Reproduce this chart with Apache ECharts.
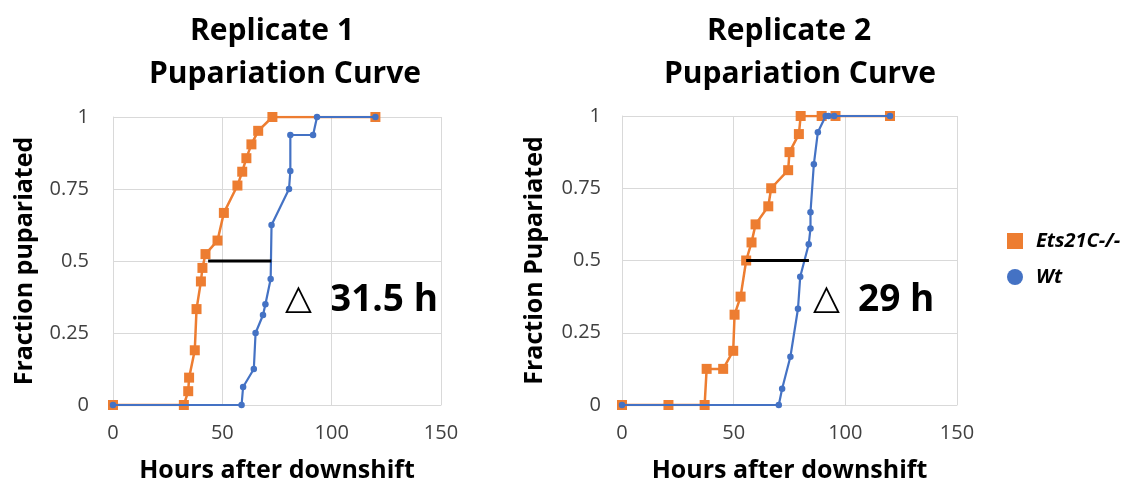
<!DOCTYPE html>
<html><head><meta charset="utf-8">
<script src="https://cdn.jsdelivr.net/npm/echarts@6/dist/echarts.min.js"></script>
<style>html,body{margin:0;padding:0;background:#fff}#c{width:1147px;height:491px}</style>
</head><body><div id="c"></div>
<script>
const seriesNames = ['Ets21C-/-', 'Wt'];
const titles = [['Replicate 1', 'Pupariation Curve'], ['Replicate 2', 'Pupariation Curve']];
const yAxisNames = ['Fraction pupariated', 'Fraction Pupariated'];
const xAxisName = 'Hours after downshift';
const deltaLabels = ['31.5 h', '29 h'];

// Replicate 1
const r1EtsHours = [0, 32.4, 34.4, 34.8, 37.4, 38.2, 40.2, 40.9, 42.3, 47.8, 50.7, 56.9, 59.1, 61.0, 63.3, 66.4, 72.9, 120];
const r1EtsFrac  = [0, 0, 0.048, 0.095, 0.19, 0.333, 0.429, 0.476, 0.524, 0.571, 0.667, 0.762, 0.81, 0.857, 0.905, 0.952, 1, 1];
const r1WtHours  = [0, 58.8, 59.5, 64.4, 65.2, 68.6, 69.7, 72.1, 72.5, 80.5, 81.1, 81.1, 91.5, 93.3, 120];
const r1WtFrac   = [0, 0, 0.0625, 0.125, 0.25, 0.3125, 0.35, 0.4375, 0.625, 0.75, 0.8125, 0.9375, 0.9375, 1, 1];
const r1DeltaHours = [43.5, 72.4];
// Replicate 2
const r2EtsHours = [0, 20.8, 37.0, 37.9, 45.3, 49.8, 50.4, 53.1, 55.6, 58.0, 59.8, 65.5, 66.8, 74.4, 75.0, 79.2, 80.0, 89.4, 95.6, 120];
const r2EtsFrac  = [0, 0, 0, 0.125, 0.125, 0.1875, 0.3125, 0.375, 0.5, 0.5625, 0.625, 0.6875, 0.75, 0.8125, 0.875, 0.9375, 1, 1, 1, 1];
const r2WtHours  = [0, 70.2, 71.7, 75.4, 78.8, 79.8, 83.6, 84.4, 84.4, 85.9, 87.7, 91.2, 92.5, 95, 120];
const r2WtFrac   = [0, 0, 0.056, 0.167, 0.333, 0.444, 0.556, 0.611, 0.667, 0.833, 0.944, 1, 1, 1, 1];
const r2DeltaHours = [55.6, 83.7];
const deltaFrac = 0.5;

const xTicks = {min: 0, max: 150, interval: 50};
const yTicks = {min: 0, max: 1, interval: 0.25};

const zip = (xs, ys) => xs.map((x, i) => [x, ys[i]]);
const ORANGE = '#ED7D31', BLUE = '#4472C4';
const FONT = '"Open Sans", Lato, sans-serif';

const grids = [
  {left: 113, top: 117, width: 328, height: 288},
  {left: 622, top: 116, width: 335, height: 289}
];
const yNameGap = [76, 75];
const yLabelMargin = [24, 21];

function xAxis(i) {
  return {
    type: 'value', gridIndex: i, min: xTicks.min, max: xTicks.max, interval: xTicks.interval,
    name: xAxisName, nameLocation: 'middle', nameGap: 53,
    nameTextStyle: {fontFamily: FONT, fontWeight: 'bold', fontSize: 25, color: '#000'},
    axisLine: {show: true, lineStyle: {color: '#d9d9d9', width: 1}},
    axisTick: {show: false},
    axisLabel: {fontFamily: FONT, fontSize: 20, color: '#404040', margin: 18},
    splitLine: {show: true, lineStyle: {color: '#d9d9d9', width: 1}}
  };
}
function yAxis(i) {
  return {
    type: 'value', gridIndex: i, min: yTicks.min, max: yTicks.max, interval: yTicks.interval,
    name: yAxisNames[i], nameLocation: 'middle', nameGap: yNameGap[i],
    nameTextStyle: {fontFamily: FONT, fontWeight: 'bold', fontSize: 25, color: '#000'},
    axisLine: {show: true, lineStyle: {color: '#d9d9d9', width: 1}},
    axisTick: {show: false},
    axisLabel: {fontFamily: FONT, fontSize: 20, color: '#404040', margin: yLabelMargin[i]},
    splitLine: {show: true, lineStyle: {color: '#d9d9d9', width: 1}}
  };
}
function etsSeries(i, data) {
  return {name: seriesNames[0], type: 'line', xAxisIndex: i, yAxisIndex: i, data,
    symbol: 'rect', symbolSize: 10, showSymbol: true,
    lineStyle: {color: ORANGE, width: 2.5}, itemStyle: {color: ORANGE}, z: 2, animation: false};
}
function wtSeries(i, data) {
  return {name: seriesNames[1], type: 'line', xAxisIndex: i, yAxisIndex: i, data,
    symbol: 'circle', symbolSize: 6.5, showSymbol: true,
    lineStyle: {color: BLUE, width: 2.2}, itemStyle: {color: BLUE}, z: 3, animation: false};
}
function deltaSeries(i, hours) {
  return {type: 'line', xAxisIndex: i, yAxisIndex: i, data: hours.map(h => [h, deltaFrac]),
    symbol: 'none', lineStyle: {color: '#000', width: 3}, z: 4, silent: true, animation: false};
}

const titleText = (txt, x, y) => ({type: 'text', x, y,
  style: {text: txt, textAlign: 'center', textVerticalAlign: 'middle', fontFamily: FONT, fontWeight: 'bold', fontSize: 30, fill: '#000'}});
const deltaText = (tx, lx, y, label, size) => [
  {type: 'text', x: tx, y, style: {text: '\u25B3', textAlign: 'left', textVerticalAlign: 'middle', fontFamily: '"DejaVu Sans"', fontSize: 35, fill: '#000'}},
  {type: 'text', x: lx, y, style: {text: label, textAlign: 'left', textVerticalAlign: 'middle', fontFamily: FONT, fontWeight: 'bold', fontSize: size, fill: '#000'}}
];

const chart = echarts.init(document.getElementById('c'), null, {renderer: 'canvas'});
chart.setOption({
  backgroundColor: '#fff',
  animation: false,
  grid: grids,
  xAxis: [xAxis(0), xAxis(1)],
  yAxis: [yAxis(0), yAxis(1)],
  legend: {
    orient: 'vertical', left: 1002, top: 226, itemWidth: 16, itemHeight: 16, itemGap: 16,
    selectedMode: false,
    data: [{name: seriesNames[0], icon: 'rect'}, {name: seriesNames[1], icon: 'circle'}],
    textStyle: {fontFamily: FONT, fontWeight: 'bold', fontStyle: 'italic', fontSize: 20, color: '#000', padding: [0, 0, 0, 8]}
  },
  graphic: [
    titleText(titles[0][0], 272, 31),
    titleText(titles[0][1], 285, 74),
    titleText(titles[1][0], 789, 31),
    titleText(titles[1][1], 800, 74),
    ...deltaText(285, 330, 300, deltaLabels[0], 37),
    ...deltaText(813, 858, 300, deltaLabels[1], 37)
  ],
  series: [
    etsSeries(0, zip(r1EtsHours, r1EtsFrac)),
    wtSeries(0, zip(r1WtHours, r1WtFrac)),
    deltaSeries(0, r1DeltaHours),
    etsSeries(1, zip(r2EtsHours, r2EtsFrac)),
    wtSeries(1, zip(r2WtHours, r2WtFrac)),
    deltaSeries(1, r2DeltaHours)
  ]
});
</script></body></html>
